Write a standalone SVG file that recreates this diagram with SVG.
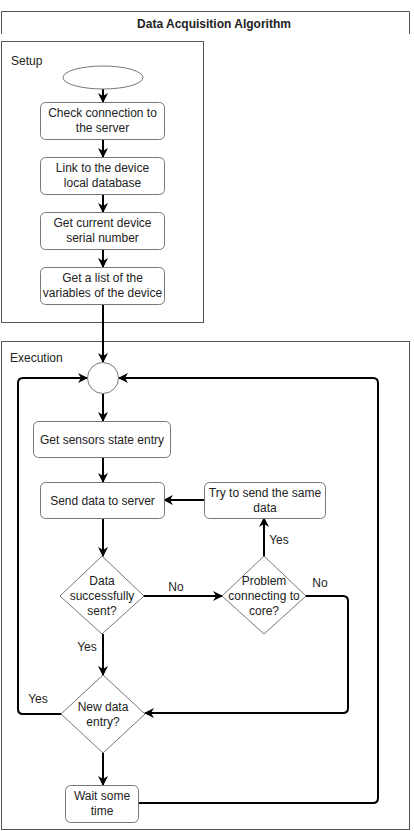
<svg xmlns="http://www.w3.org/2000/svg" width="414" height="831" viewBox="0 0 414 831">
<defs>
<marker id="arr" viewBox="0 0 10 10" refX="9" refY="5" markerWidth="5" markerHeight="5" orient="auto" markerUnits="strokeWidth">
<path d="M0,0 L10,5 L0,10 L3,5 z" fill="#000"/>
</marker>
<style>
text{font-family:"Liberation Sans",Arial,sans-serif;font-size:12px;fill:#222}
.c{text-anchor:middle}
.t{font-weight:bold}
.frame{fill:none;stroke:#555;stroke-width:1}
.box{fill:#fff;stroke:#777;stroke-width:1}
.conn{fill:none;stroke:#000;stroke-width:2;stroke-linejoin:round}
.arr{marker-end:url(#arr)}
</style>
</defs>
<rect width="414" height="831" fill="#fff"/>
<g id="title">
<path class="frame" d="M1.5,34 V11.5 H409.5 V34"/>
<text class="c t" x="214" y="28">Data Acquisition Algorithm</text>
</g>
<g id="setup">
<rect class="frame" x="1.5" y="41.5" width="202" height="281"/>
<text x="11" y="65">Setup</text>
</g>
<g id="execution">
<rect class="frame" x="1.5" y="341.5" width="408" height="488"/>
<text x="10" y="362">Execution</text>
</g>
<g id="connectors">
<path class="conn arr" d="M103,89 V102"/>
<path class="conn arr" d="M103,139 V157"/>
<path class="conn arr" d="M103,194 V212"/>
<path class="conn arr" d="M103,249 V267"/>
<path class="conn arr" d="M103,305 V362"/>
<path class="conn arr" d="M103,394 V421"/>
<path class="conn arr" d="M103,457 V482"/>
<path class="conn arr" d="M103,518 V556"/>
<path class="conn arr" d="M143,596 H222"/>
<path class="conn arr" d="M264,556 V518"/>
<path class="conn arr" d="M204,500 H164"/>
<path class="conn arr" d="M306,596 H343 Q348,596 348,601 V708 Q348,713 343,713 H145"/>
<path class="conn arr" d="M103,634 V675"/>
<path class="conn arr" d="M61,714 H23 Q18,714 18,709 V383 Q18,378 23,378 H87"/>
<path class="conn arr" d="M103,753 V785"/>
<path class="conn arr" d="M138,803 H373 Q378,803 378,798 V383 Q378,378 373,378 H119"/>
</g>
<g id="labels">
<text class="c" x="176" y="591">No</text>
<text class="c" x="279" y="544">Yes</text>
<text class="c" x="320" y="587">No</text>
<text class="c" x="87" y="651">Yes</text>
<text class="c" x="38" y="703">Yes</text>
</g>
<g id="start">
<ellipse class="box" cx="103" cy="77.5" rx="40" ry="11.5"/>
</g>
<g id="check">
<rect class="box" x="40.5" y="102.5" width="124" height="37" rx="5"/>
<text class="c" x="102.5" y="117">Check connection to</text>
<text class="c" x="102.5" y="132">the server</text>
</g>
<g id="link">
<rect class="box" x="40.5" y="157.5" width="124" height="37" rx="5"/>
<text class="c" x="102.5" y="172">Link to the device</text>
<text class="c" x="102.5" y="187">local database</text>
</g>
<g id="serial">
<rect class="box" x="40.5" y="212.5" width="124" height="37" rx="5"/>
<text class="c" x="102.5" y="227">Get current device</text>
<text class="c" x="102.5" y="242">serial number</text>
</g>
<g id="vars">
<rect class="box" x="40.5" y="267.5" width="124" height="37" rx="5"/>
<text class="c" x="102.5" y="282">Get a list of the</text>
<text class="c" x="102.5" y="297">variables of the device</text>
</g>
<g id="merge">
<circle class="box" cx="103" cy="378" r="15.5"/>
</g>
<g id="sensors">
<rect class="box" x="33.5" y="421.5" width="137" height="36" rx="5"/>
<text class="c" x="102" y="443.5">Get sensors state entry</text>
</g>
<g id="send">
<rect class="box" x="40.5" y="482.5" width="124" height="36" rx="5"/>
<text class="c" x="102.5" y="504.5">Send data to server</text>
</g>
<g id="retry">
<rect class="box" x="204.5" y="482.5" width="121" height="36" rx="5"/>
<text class="c" x="265" y="497">Try to send the same</text>
<text class="c" x="265" y="512">data</text>
</g>
<g id="success">
<polygon class="box" points="102,556 144,596 102,634 60,596"/>
<text class="c" x="102" y="585">Data</text>
<text class="c" x="102" y="600">successfully</text>
<text class="c" x="102" y="615">sent?</text>
</g>
<g id="problem">
<polygon class="box" points="264,556 306,596 264,634 222,596"/>
<text class="c" x="264" y="585">Problem</text>
<text class="c" x="264" y="600">connecting to</text>
<text class="c" x="264" y="615">core?</text>
</g>
<g id="newdata">
<polygon class="box" points="103,675 145,714 103,753 61,714"/>
<text class="c" x="103" y="711">New data</text>
<text class="c" x="103" y="726">entry?</text>
</g>
<g id="wait">
<rect class="box" x="65.5" y="785.5" width="73" height="37" rx="5"/>
<text class="c" x="102" y="800">Wait some</text>
<text class="c" x="102" y="815">time</text>
</g>
</svg>
